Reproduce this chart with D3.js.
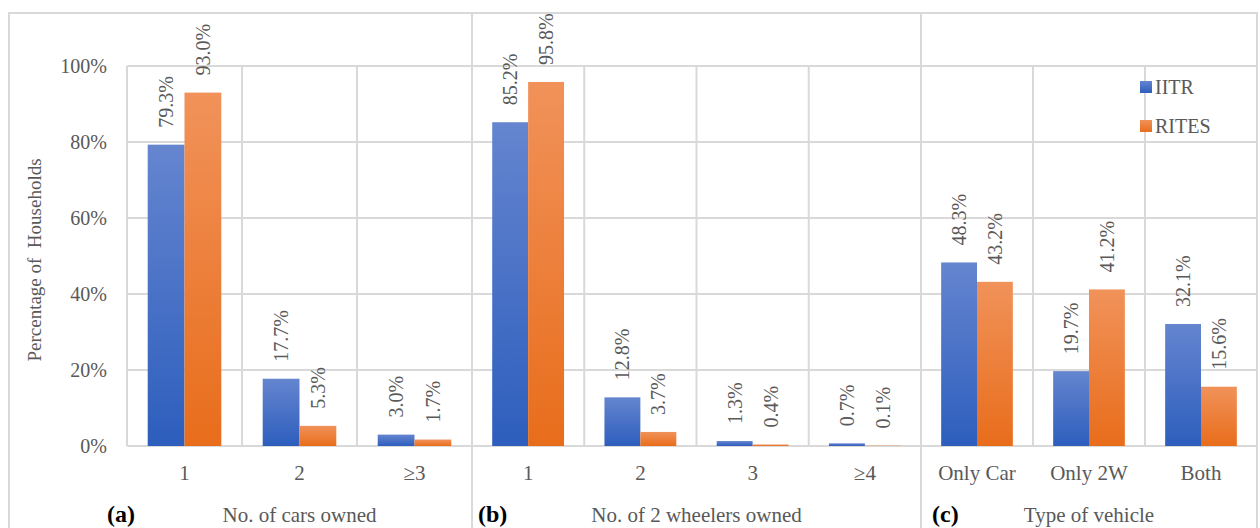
<!DOCTYPE html>
<html>
<head>
<meta charset="utf-8">
<script src="https://cdn.jsdelivr.net/npm/d3@7"></script>
<style>
  body { margin: 0; background: #fff; }
  svg { display: block; font-family: "Liberation Serif", "Times New Roman", serif; }
</style>
</head>
<body>
<svg id="chart"></svg>
<script>
const width = 1260;
const height = 528;

// data
const series = ["IITR", "RITES"];
const carCats = ["1", "2", "\u22653"];
const carIITR = [79.3, 17.7, 3.0];
const carRITES = [93.0, 5.3, 1.7];
const twoWCats = ["1", "2", "3", "\u22654"];
const twoWIITR = [85.2, 12.8, 1.3, 0.7];
const twoWRITES = [95.8, 3.7, 0.4, 0.1];
const typeCats = ["Only Car", "Only 2W", "Both"];
const typeIITR = [48.3, 19.7, 32.1];
const typeRITES = [43.2, 41.2, 15.6];
const yTicks = [0, 20, 40, 60, 80, 100];
const panelTags = ["(a)", "(b)", "(c)"];
const panelTitles = ["No. of cars owned", "No. of 2 wheelers owned", "Type of vehicle"];

// layout
const plotTop = 66;
const plotBottom = 446;
const panelEdges = [127, 472, 921, 1257];
const tagX = [107, 478, 932];
const gridColor = "#d9d9d9";
const textColor = "#595959";

const panels = [
  { cats: carCats, vals: [carIITR, carRITES] },
  { cats: twoWCats, vals: [twoWIITR, twoWRITES] },
  { cats: typeCats, vals: [typeIITR, typeRITES] }
];

const svg = d3.select("#chart").attr("width", width).attr("height", height);

const defs = svg.append("defs");
const grads = [
  { id: "g-iitr", top: "#6585cf", bottom: "#2d5ebd" },
  { id: "g-rites", top: "#f1925a", bottom: "#e86d1b" }
];
grads.forEach(g => {
  const lg = defs.append("linearGradient").attr("id", g.id)
    .attr("x1", 0).attr("y1", 0).attr("x2", 0).attr("y2", 1);
  lg.append("stop").attr("offset", "0%").attr("stop-color", g.top);
  lg.append("stop").attr("offset", "100%").attr("stop-color", g.bottom);
});

const y = d3.scaleLinear().domain([0, 100]).range([plotBottom, plotTop]);

// outer frame
svg.append("rect")
  .attr("x", 9).attr("y", 13)
  .attr("width", 1248).attr("height", 540)
  .attr("fill", "none").attr("stroke", gridColor).attr("stroke-width", 2);

// horizontal grid
svg.append("g").selectAll("line").data(yTicks).join("line")
  .attr("x1", panelEdges[0]).attr("x2", panelEdges[3])
  .attr("y1", d => y(d)).attr("y2", d => y(d))
  .attr("stroke", gridColor).attr("stroke-width", 2);

// y tick labels
svg.append("g").selectAll("text").data(yTicks).join("text")
  .attr("x", 107).attr("y", d => y(d))
  .attr("dy", "0.35em")
  .attr("text-anchor", "end")
  .attr("font-size", 20)
  .attr("fill", textColor)
  .text(d => d + "%");

// y axis title
svg.append("text")
  .attr("transform", `translate(41,${(plotTop + plotBottom) / 2 + 4}) rotate(-90)`)
  .attr("text-anchor", "middle")
  .attr("font-size", 19)
  .attr("fill", textColor)
  .style("white-space", "pre")
  .text("Percentage of  Households");

panels.forEach((p, pi) => {
  const x0 = d3.scaleBand().domain(p.cats)
    .range([panelEdges[pi], panelEdges[pi + 1]]).padding(0);
  const bw = x0.bandwidth();
  const x1 = d3.scaleBand().domain(series).range([bw * 0.18, bw * 0.82]).padding(0);

  const g = svg.append("g");

  // vertical category grid lines
  g.selectAll("line.vgrid").data(p.cats.slice(1)).join("line")
    .attr("class", "vgrid")
    .attr("x1", d => x0(d)).attr("x2", d => x0(d))
    .attr("y1", plotTop).attr("y2", plotBottom)
    .attr("stroke", gridColor).attr("stroke-width", 2);

  const rows = p.cats.map((c, ci) => series.map((s, si) => ({ cat: c, s, si, v: p.vals[si][ci] })));

  const groups = g.selectAll("g.cat").data(rows).join("g")
    .attr("class", "cat")
    .attr("transform", (d, i) => `translate(${x0(p.cats[i])},0)`);

  groups.selectAll("rect").data(d => d).join("rect")
    .attr("x", d => x1(d.s))
    .attr("y", d => y(d.v))
    .attr("width", x1.bandwidth())
    .attr("height", d => plotBottom - y(d.v))
    .attr("fill", d => `url(#${grads[d.si].id})`);

  groups.selectAll("text.val").data(d => d).join("text")
    .attr("class", "val")
    .attr("transform", d => `translate(${x1(d.s) + x1.bandwidth() / 2},${y(d.v) - 17}) rotate(-90)`)
    .attr("dy", "0.35em")
    .attr("font-size", 20)
    .attr("fill", textColor)
    .text(d => d.v.toFixed(1) + "%");

  // category labels
  g.selectAll("text.cat").data(p.cats).join("text")
    .attr("class", "cat")
    .attr("x", d => x0(d) + bw / 2)
    .attr("y", 480)
    .attr("text-anchor", "middle")
    .attr("font-size", 21)
    .attr("fill", textColor)
    .text(d => d);

  // panel title and tag
  g.append("text")
    .attr("x", (panelEdges[pi] + panelEdges[pi + 1]) / 2)
    .attr("y", 522)
    .attr("text-anchor", "middle")
    .attr("font-size", 21)
    .attr("fill", textColor)
    .text(panelTitles[pi]);

  g.append("text")
    .attr("x", tagX[pi])
    .attr("y", 522)
    .attr("font-size", 24)
    .attr("font-weight", "bold")
    .attr("fill", "#000")
    .text(panelTags[pi]);
});

// panel separators
svg.append("g").selectAll("line").data(panelEdges.slice(0, 3)).join("line")
  .attr("x1", d => d).attr("x2", d => d)
  .attr("y1", (d, i) => i === 0 ? plotTop : 13)
  .attr("y2", (d, i) => i === 0 ? plotBottom : height)
  .attr("stroke", gridColor).attr("stroke-width", 2);

// legend
const legend = svg.append("g").attr("transform", "translate(1140,81)");
const li = legend.selectAll("g").data(series).join("g")
  .attr("transform", (d, i) => `translate(0,${i * 39})`);
li.append("rect")
  .attr("width", 12).attr("height", 12)
  .attr("fill", (d, i) => `url(#${grads[i].id})`);
li.append("text")
  .attr("x", 15).attr("y", 6)
  .attr("dy", "0.35em")
  .attr("font-size", 20)
  .attr("fill", textColor)
  .text(d => d);
</script>
</body>
</html>
